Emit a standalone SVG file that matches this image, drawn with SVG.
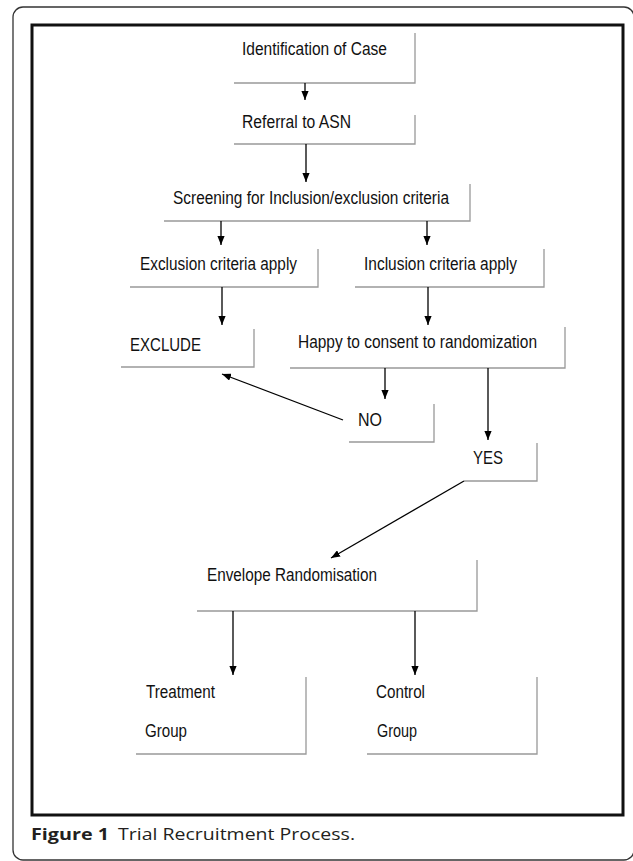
<svg xmlns="http://www.w3.org/2000/svg" width="633" height="861" viewBox="0 0 633 861">
<style>
.frame{fill:none;stroke:#333;stroke-width:1.3}
.inner{fill:none;stroke:#111;stroke-width:3}
.bd{fill:none;stroke:#999;stroke-width:1.3}
.t{font-family:"Liberation Sans Narrow","Liberation Sans",Arial,sans-serif;font-size:17.5px;fill:#111}
.c{stroke:#000;stroke-width:1.3;fill:none}
.cap{font-family:"Open Sans","DejaVu Sans",sans-serif;font-size:16.5px;fill:#231f20}
</style>
<defs>
<marker id="ah" viewBox="0 0 10 8" refX="10" refY="4" markerWidth="9" markerHeight="7.2" markerUnits="userSpaceOnUse" orient="auto">
<path d="M0,0 L10,4 L0,8 z" fill="#000"/>
</marker>
</defs>
<rect class="frame" x="13" y="7" width="621" height="853" rx="10"/>
<rect class="inner" x="32" y="25" width="591" height="790"/>

<g id="n1"><path class="bd" d="M234,83 H415 V33"/><text class="t" x="242" y="55" textLength="145" lengthAdjust="spacingAndGlyphs">Identification of Case</text></g>
<g id="n2"><path class="bd" d="M234,144 H415 V115"/><text class="t" x="242" y="128" textLength="109" lengthAdjust="spacingAndGlyphs">Referral to ASN</text></g>
<g id="n3"><path class="bd" d="M164,221 H470 V184"/><text class="t" x="173" y="204" textLength="276" lengthAdjust="spacingAndGlyphs">Screening for Inclusion/exclusion criteria</text></g>
<g id="n4"><path class="bd" d="M130,287 H318 V249"/><text class="t" x="140" y="270" textLength="157" lengthAdjust="spacingAndGlyphs">Exclusion criteria apply</text></g>
<g id="n5"><path class="bd" d="M355,287 H544 V249"/><text class="t" x="364" y="270" textLength="153" lengthAdjust="spacingAndGlyphs">Inclusion criteria apply</text></g>
<g id="n6"><path class="bd" d="M121,367 H254 V329"/><text class="t" x="130" y="351" textLength="71" lengthAdjust="spacingAndGlyphs">EXCLUDE</text></g>
<g id="n7"><path class="bd" d="M290,368 H565 V327"/><text class="t" x="298" y="348" textLength="239" lengthAdjust="spacingAndGlyphs">Happy to consent to randomization</text></g>
<g id="n8"><path class="bd" d="M349,442 H434 V404"/><text class="t" x="358" y="426" textLength="24" lengthAdjust="spacingAndGlyphs">NO</text></g>
<g id="n9"><path class="bd" d="M464,481 H537 V443"/><text class="t" x="473" y="464" textLength="30" lengthAdjust="spacingAndGlyphs">YES</text></g>
<g id="n10"><path class="bd" d="M197,611 H477 V560"/><text class="t" x="207" y="581" textLength="170" lengthAdjust="spacingAndGlyphs">Envelope Randomisation</text></g>
<g id="n11"><path class="bd" d="M136,754 H306 V677"/><text class="t" x="146" y="698" textLength="69" lengthAdjust="spacingAndGlyphs">Treatment</text><text class="t" x="145" y="737" textLength="42" lengthAdjust="spacingAndGlyphs">Group</text></g>
<g id="n12"><path class="bd" d="M367,754 H537 V677"/><text class="t" x="376" y="698" textLength="49" lengthAdjust="spacingAndGlyphs">Control</text><text class="t" x="377" y="737" textLength="40" lengthAdjust="spacingAndGlyphs">Group</text></g>

<g id="connectors">
<line class="c" x1="305" y1="83" x2="305" y2="100" marker-end="url(#ah)"/>
<line class="c" x1="306" y1="144" x2="306" y2="182" marker-end="url(#ah)"/>
<line class="c" x1="221" y1="221" x2="221" y2="245" marker-end="url(#ah)"/>
<line class="c" x1="427" y1="221" x2="427" y2="245" marker-end="url(#ah)"/>
<line class="c" x1="222" y1="287" x2="222" y2="325" marker-end="url(#ah)"/>
<line class="c" x1="428" y1="287" x2="428" y2="325" marker-end="url(#ah)"/>
<line class="c" x1="385" y1="368" x2="385" y2="399" marker-end="url(#ah)"/>
<line class="c" x1="488" y1="368" x2="488" y2="440" marker-end="url(#ah)"/>
<line class="c" x1="343" y1="420" x2="222" y2="374" marker-end="url(#ah)"/>
<line class="c" x1="464" y1="481" x2="331" y2="558" marker-end="url(#ah)"/>
<line class="c" x1="233" y1="611" x2="233" y2="675" marker-end="url(#ah)"/>
<line class="c" x1="415" y1="611" x2="415" y2="675" marker-end="url(#ah)"/>
</g>

<text class="cap" x="31" y="840" font-weight="bold" textLength="78" lengthAdjust="spacingAndGlyphs">Figure 1</text>
<text class="cap" x="118" y="840" textLength="237" lengthAdjust="spacingAndGlyphs">Trial Recruitment Process.</text>
</svg>
